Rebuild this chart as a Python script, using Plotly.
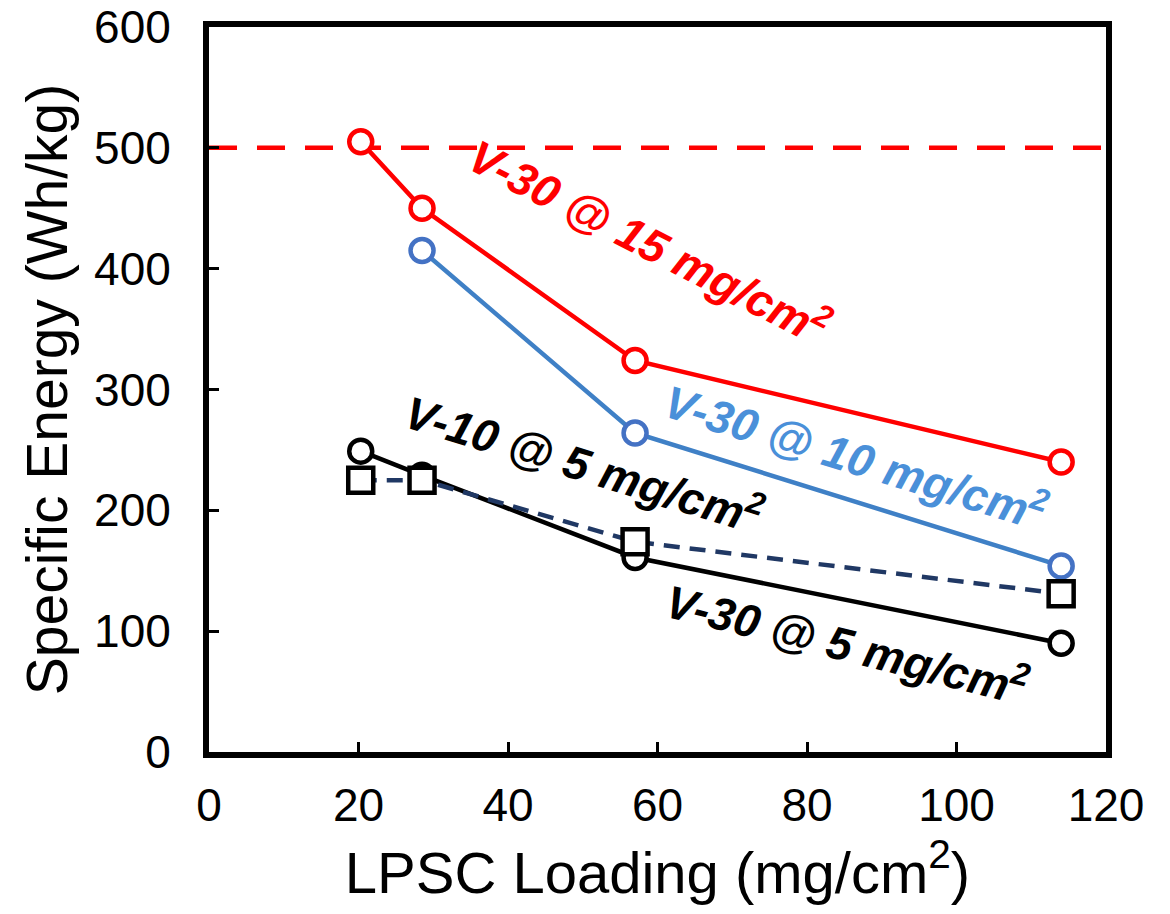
import plotly.graph_objects as go

# Data
x_red = [20.3, 28.5, 57.0, 114.0]
y_red = [505, 450, 324, 240]           # V-30 @ 15 mg/cm2
x_blue = [28.5, 57.0, 114.0]
y_blue = [415, 264, 154]               # V-30 @ 10 mg/cm2
x_black = [20.3, 28.5, 57.0, 114.0]
y_black = [249, 229, 161, 90]          # V-30 @ 5 mg/cm2
x_sq = [20.3, 28.5, 57.0, 114.0]
y_sq = [225, 225, 174, 131]            # V-10 @ 5 mg/cm2
target_x = [0, 120]
target_y = [500, 500]

FONT = "Liberation Sans, Arial, sans-serif"

fig = go.Figure()
fig.add_trace(go.Scatter(x=target_x, y=target_y, mode="lines",
                         line=dict(color="#FF0000", width=4.5, dash="28px,20px"),
                         hoverinfo="skip"))
fig.add_trace(go.Scatter(x=x_red, y=y_red, mode="lines+markers",
                         line=dict(color="#FF0000", width=4.5),
                         marker=dict(symbol="circle", size=23, color="white",
                                     line=dict(color="#FF0000", width=4.5))))
fig.add_trace(go.Scatter(x=x_blue, y=y_blue, mode="lines+markers",
                         line=dict(color="#3F80C6", width=4.5),
                         marker=dict(symbol="circle", size=23, color="white",
                                     line=dict(color="#4472C4", width=4.5))))
fig.add_trace(go.Scatter(x=x_black, y=y_black, mode="lines+markers",
                         line=dict(color="#000000", width=4.5),
                         marker=dict(symbol="circle", size=23, color="white",
                                     line=dict(color="#000000", width=4.5))))
fig.add_trace(go.Scatter(x=x_sq, y=y_sq, mode="lines+markers",
                         line=dict(color="#203864", width=4.5, dash="16px,10px"),
                         marker=dict(symbol="square", size=25, color="white",
                                     line=dict(color="#000000", width=4.5))))

annos = [
    ("<b><i>V-30 @ 15 mg/cm<sup>2</sup></i></b>", 59.0, 424, 27, "#FF0000"),
    ("<b><i>V-30 @ 10 mg/cm<sup>2</sup></i></b>", 86.6, 246, 17, "#4A90D9"),
    ("<b><i>V-10 @ 5 mg/cm<sup>2</sup></i></b>", 50.2, 240, 17, "#000000"),
    ("<b><i>V-30 @ 5 mg/cm<sup>2</sup></i></b>", 85.4, 91, 14, "#000000"),
]
for txt, ax_, ay_, ang, col in annos:
    fig.add_annotation(x=ax_, y=ay_, xref="x", yref="y", text=txt, showarrow=False,
                       textangle=ang, font=dict(family=FONT, size=46, color=col))

fig.update_layout(
    width=1170, height=914,
    margin=dict(l=209, r=64, t=27, b=162),
    paper_bgcolor="white", plot_bgcolor="white",
    showlegend=False,
    font=dict(family=FONT, color="black"),
)
fig.update_xaxes(range=[0, 120], dtick=20, showgrid=False, zeroline=False,
                 showline=True, linecolor="black", linewidth=6, mirror=True,
                 ticks="inside", ticklen=10, tickwidth=3, tickcolor="black",
                 tickfont=dict(size=46, family=FONT), ticklabelstandoff=8,
                 ticklabeloverflow="allow", automargin=False,
                 title=dict(text="LPSC Loading (mg/cm<sup>2</sup>)",
                            font=dict(size=58, family=FONT), standoff=6))
fig.update_yaxes(range=[0, 600], dtick=100, showgrid=False, zeroline=False,
                 showline=True, linecolor="black", linewidth=6, mirror=True,
                 ticks="inside", ticklen=10, tickwidth=3, tickcolor="black",
                 tickfont=dict(size=46, family=FONT), ticklabelstandoff=23,
                 ticklabeloverflow="allow", automargin=False,
                 title=dict(text="Specific Energy (Wh/kg)",
                            font=dict(size=57, family=FONT), standoff=10))

fig.write_html("out.html", config={"displayModeBar": False},
               post_script="document.body.style.margin='0';")
